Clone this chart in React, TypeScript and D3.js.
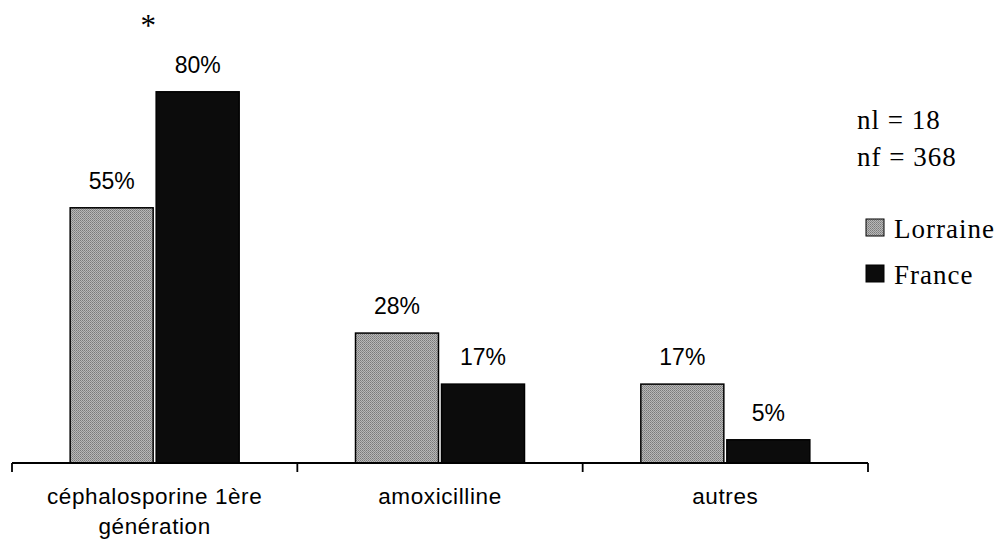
import React from "react";
import * as d3 from "d3";

const categories = ["céphalosporine 1ère\ngénération", "amoxicilline", "autres"];
const seriesNames = ["Lorraine", "France"];
const lorraine = [55, 28, 17];
const france = [80, 17, 5];
const valueLabels = [["55%", "28%", "17%"], ["80%", "17%", "5%"]];
const notes = ["nl = 18", "nf = 368"];

const W = 1000;
const H = 543;
const colors = ["#9c9c9c", "#0c0c0c"];

export default function App() {
  const x = d3.scaleBand<number>().domain(d3.range(categories.length)).range([12, 868]).paddingInner(0).paddingOuter(0);
  const groupW = 169;
  const inner = d3.scaleBand<number>().domain([0, 1]).range([0, groupW]).paddingInner(0.035);
  const y = d3.scaleLinear().domain([0, 100]).range([463, -1]);
  const series = [lorraine, france];
  const base = y(0);
  const sans = "'Liberation Sans', Arial, sans-serif";
  const serif = "'Liberation Serif', 'Times New Roman', serif";

  const ticks = [0, 1, 2, 3].map((i) => (i < 3 ? (x(i) as number) : (x(2) as number) + x.bandwidth()));
  const barX = (s: number, i: number) => (x(i) as number) + (x.bandwidth() - groupW) / 2 + (inner(s) as number);

  return (
    <svg width={W} height={H} style={{ position: "absolute", left: 0, top: 0, background: "#fff" }}>
      <defs>
        <pattern id="dither" width="2" height="2" patternUnits="userSpaceOnUse">
          <rect width="2" height="2" fill="#b8b8b8" />
          <rect width="1" height="1" fill="#7a7a7a" />
          <rect x="1" y="1" width="1" height="1" fill="#8c8c8c" />
        </pattern>
      </defs>
      {series.map((vals, s) =>
        vals.map((v, i) => {
          const bx = barX(s, i);
          const bw = inner.bandwidth();
          return (
            <g key={`${s}-${i}`}>
              <rect
                x={bx}
                y={y(v)}
                width={bw}
                height={base - y(v)}
                fill={s === 0 ? "url(#dither)" : colors[1]}
                stroke="#000"
                strokeWidth={1.5}
              />
              <text
                x={bx + bw / 2}
                y={y(v) - 19}
                textAnchor="middle"
                fontFamily={sans}
                fontSize={23}
                fill="#000"
              >
                {valueLabels[s][i]}
              </text>
            </g>
          );
        })
      )}
      <text
        x={barX(1, 0) - 8}
        y={36}
        textAnchor="middle"
        fontFamily={serif}
        fontSize={31}
      >
        *
      </text>
      <line x1={ticks[0]} x2={ticks[3]} y1={base} y2={base} stroke="#000" strokeWidth={1.8} />
      {ticks.map((t, i) => (
        <line key={i} x1={t} x2={t} y1={base} y2={base + 9} stroke="#000" strokeWidth={1.8} />
      ))}
      {categories.map((c, i) =>
        c.split("\n").map((line, j) => (
          <text
            key={`${i}-${j}`}
            x={(x(i) as number) + x.bandwidth() / 2}
            y={504 + j * 30}
            textAnchor="middle"
            fontFamily={sans}
            fontSize={22.5}
            letterSpacing={0.6}
          >
            {line}
          </text>
        ))
      )}
      {notes.map((n, i) => (
        <text key={n} x={857} y={129 + i * 37} fontFamily={serif} fontSize={27} letterSpacing={1}>
          {n}
        </text>
      ))}
      {seriesNames.map((n, i) => (
        <g key={n}>
          <rect
            x={866}
            y={219 + i * 46}
            width={18}
            height={17}
            fill={i === 0 ? "url(#dither)" : colors[1]}
            stroke="#000"
            strokeWidth={1}
          />
          <text x={894} y={238 + i * 46} fontFamily={serif} fontSize={27} letterSpacing={1}>
            {n}
          </text>
        </g>
      ))}
    </svg>
  );
}
